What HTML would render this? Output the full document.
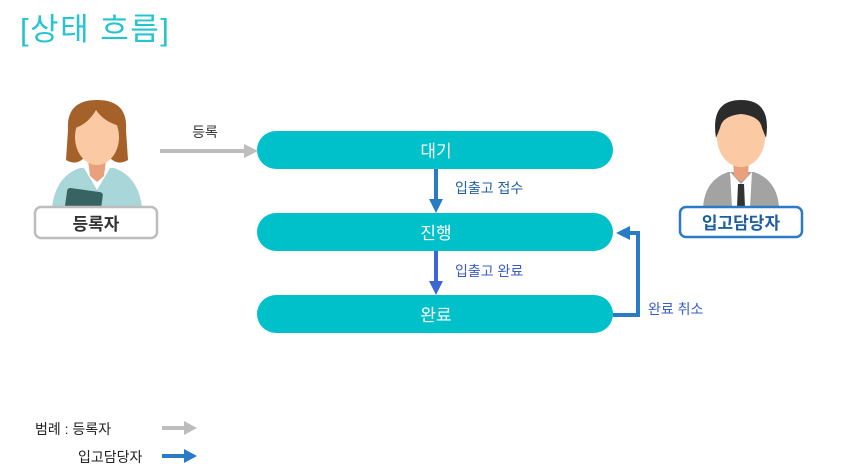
<!DOCTYPE html>
<html><head><meta charset="utf-8"><style>
html,body{margin:0;padding:0;background:#fff;width:846px;height:476px;overflow:hidden}
svg{display:block;font-family:"Liberation Sans","Noto Sans CJK KR",sans-serif}
</style></head><body>
<svg width="846" height="476" viewBox="0 0 846 476" xmlns="http://www.w3.org/2000/svg">
<text x="20" y="40" font-size="31" fill="#26c4d0" letter-spacing="1.5">[상태 흐름]</text>

<!-- woman -->
<g>
<path d="M52 207 Q56 176 80 168 L114 168 Q138 176 142 207 Z" fill="#a9d6d8"/>
<path d="M84 168 L97 190 L110 168 Z" fill="#fff"/>
<path d="M88 160 L106 160 L104 176 L97 182 L90 176 Z" fill="#e8a07d"/>
<path d="M68 130 Q66 100 97 100 Q128 100 126 130 L128 160 Q118 166 110 158 L84 158 Q76 166 66 160 Z" fill="#a5612a"/>
<ellipse cx="97" cy="137" rx="22" ry="28" fill="#fbcaa5"/>
<path d="M75 128 Q80 106 97 106 Q116 106 120 126 Q104 122 96 110 Q88 124 75 128 Z" fill="#a5612a"/>
<rect x="66" y="190" width="36" height="22" rx="3" transform="rotate(8 84 200)" fill="#376463"/>
</g>
<rect x="35" y="207" width="122" height="31" rx="6" fill="#fff" stroke="#bdbdbd" stroke-width="2.5"/>
<text x="96" y="230" font-size="17" font-weight="bold" fill="#333" text-anchor="middle">등록자</text>

<!-- man -->
<g>
<path d="M703 207 Q705 180 728 172 L754 172 Q777 180 779 207 Z" fill="#a3a3a3"/>
<path d="M730 172 L741 184 L752 172 L750 207 L732 207 Z" fill="#fff"/>
<path d="M738 184 L744 184 L745 207 L737 207 Z" fill="#333"/>
<path d="M733 160 L749 160 L748 176 L741 182 L734 176 Z" fill="#e8a07d"/>
<ellipse cx="741" cy="137" rx="24" ry="30" fill="#fbcaa5"/>
<path d="M716 138 Q710 100 741 100 Q772 100 766 138 L762 128 Q760 116 741 114 Q722 116 720 128 Z" fill="#2b2b2b"/>
</g>
<rect x="680" y="207" width="122" height="30" rx="6" fill="#fff" stroke="#2a7bc5" stroke-width="2.5"/>
<text x="741" y="229" font-size="17" font-weight="bold" fill="#1f5fa0" text-anchor="middle">입고담당자</text>

<!-- pills -->
<rect x="257" y="131" width="356" height="38" rx="19" fill="#00c0c9"/>
<rect x="257" y="213" width="356" height="38" rx="19" fill="#00c0c9"/>
<rect x="257" y="295" width="356" height="38" rx="19" fill="#00c0c9"/>
<text x="436" y="157" font-size="17" fill="#fff" text-anchor="middle">대기</text>
<text x="436" y="239" font-size="17" fill="#fff" text-anchor="middle">진행</text>
<text x="436" y="321" font-size="17" fill="#fff" text-anchor="middle">완료</text>

<!-- gray arrow -->
<line x1="160" y1="151" x2="246" y2="151" stroke="#bdbdbd" stroke-width="4"/>
<polygon points="244,144 258,151 244,158" fill="#bdbdbd"/>
<text x="205" y="137" font-size="14" fill="#333" text-anchor="middle">등록</text>

<!-- down arrows -->
<line x1="436" y1="169" x2="436" y2="200" stroke="#2a7bc5" stroke-width="4"/>
<polygon points="429,199 443,199 436,213" fill="#2a7bc5"/>
<text x="455" y="193" font-size="14" fill="#1f5fa0">입출고 접수</text>
<line x1="436" y1="251" x2="436" y2="282" stroke="#3b66d4" stroke-width="4"/>
<polygon points="429,281 443,281 436,295" fill="#3b66d4"/>
<text x="455" y="276" font-size="14" fill="#3a5ccc">입출고 완료</text>

<!-- loop -->
<polyline points="613,315 638,315 638,233 628,233" fill="none" stroke="#2a7bc5" stroke-width="4"/>
<polygon points="630,226 616,233 630,240" fill="#2a7bc5"/>
<text x="648" y="314" font-size="14" fill="#3a5ccc">완료 취소</text>

<!-- legend -->
<text x="35" y="434" font-size="14" fill="#222">범례 : 등록자</text>
<line x1="162" y1="428" x2="186" y2="428" stroke="#bdbdbd" stroke-width="4"/>
<polygon points="184,421 197,428 184,435" fill="#bdbdbd"/>
<text x="78" y="462" font-size="14" fill="#222">입고담당자</text>
<line x1="162" y1="456" x2="186" y2="456" stroke="#2a7bc5" stroke-width="4"/>
<polygon points="184,449 197,456 184,463" fill="#2a7bc5"/>
</svg>
</body></html>
